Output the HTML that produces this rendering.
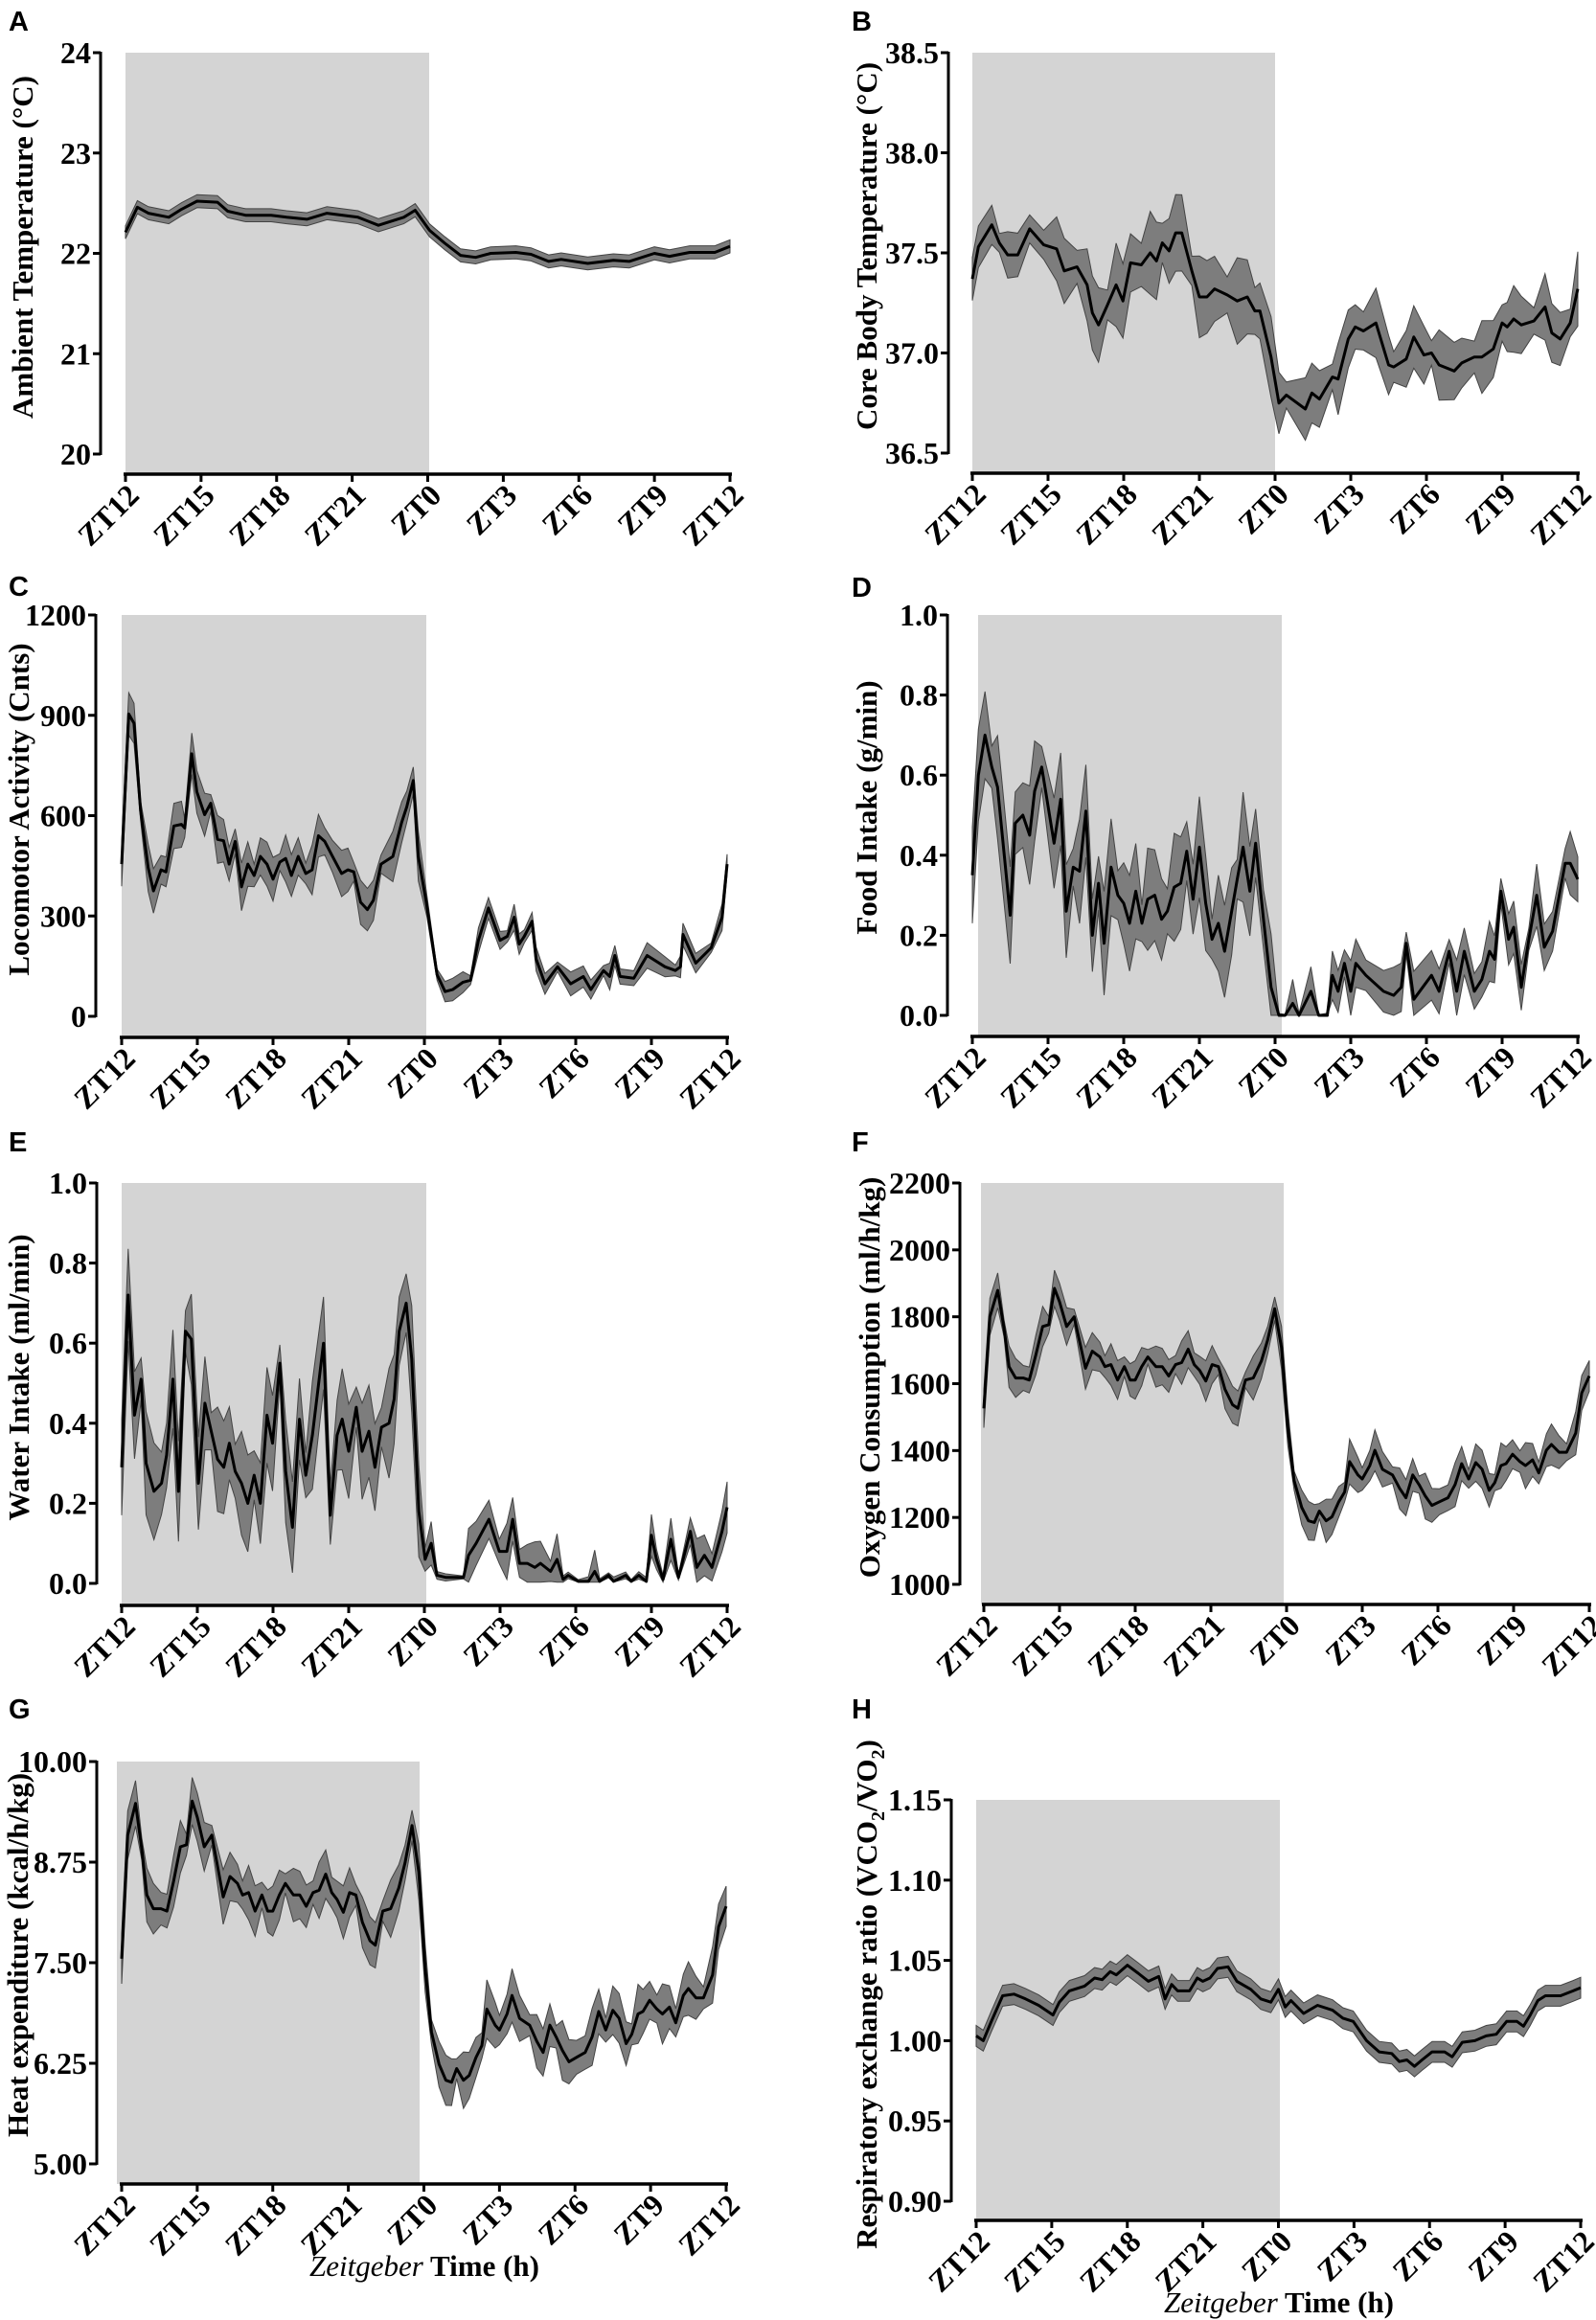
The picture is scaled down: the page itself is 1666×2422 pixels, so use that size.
<!DOCTYPE html>
<html><head><meta charset="utf-8">
<style>
html,body{margin:0;padding:0;background:#fff;}
svg{display:block;}
.tk{font-family:"Liberation Serif",serif;font-weight:bold;font-size:32px;fill:#000;}
.yl{font-family:"Liberation Serif",serif;font-weight:bold;font-size:31px;fill:#000;}
.lt{font-family:"Liberation Sans",sans-serif;font-weight:bold;font-size:29px;fill:#000;}
</style></head>
<body>
<svg id="s" width="1666" height="2422" viewBox="0 0 1666 2422" xmlns="http://www.w3.org/2000/svg">
<text class="lt" x="9" y="32">A</text>
<text class="lt" x="889" y="32">B</text>
<text class="lt" x="9" y="622">C</text>
<text class="lt" x="889" y="623">D</text>
<text class="lt" x="9" y="1202">E</text>
<text class="lt" x="889" y="1202">F</text>
<text class="lt" x="9" y="1794">G</text>
<text class="lt" x="889" y="1794">H</text>
<text class="yl" transform="translate(34,258) rotate(-90)" text-anchor="middle">Ambient Temperature (°C)</text>
<text class="yl" transform="translate(915,257) rotate(-90)" text-anchor="middle">Core Body Temperature (°C)</text>
<text class="yl" transform="translate(30,845) rotate(-90)" text-anchor="middle">Locomotor Activity (Cnts)</text>
<text class="yl" transform="translate(915,843) rotate(-90)" text-anchor="middle">Food Intake (g/min)</text>
<text class="yl" transform="translate(30,1438) rotate(-90)" text-anchor="middle">Water Intake (ml/min)</text>
<text class="yl" transform="translate(918,1438) rotate(-90)" text-anchor="middle">Oxygen Consumption (ml/h/kg)</text>
<text class="yl" transform="translate(29,2041) rotate(-90)" text-anchor="middle">Heat expenditure (kcal/h/kg)</text>
<text class="yl" transform="translate(915,2082) rotate(-90)" text-anchor="middle">Respiratory exchange ratio (VCO<tspan font-size="20" dy="8">2</tspan><tspan dy="-8">/VO</tspan><tspan font-size="20" dy="8">2</tspan><tspan dy="-8">)</tspan></text>
<text class="yl" x="443" y="2376" text-anchor="middle"><tspan font-style="italic" font-weight="normal">Zeitgeber</tspan> Time (h)</text>
<text class="yl" x="1335" y="2414" text-anchor="middle"><tspan font-style="italic" font-weight="normal">Zeitgeber</tspan> Time (h)</text>
</svg>
<script>
var NS="http://www.w3.org/2000/svg",S=document.getElementById("s");
function el(n,a,t){var e=document.createElementNS(NS,n);for(var k in a)e.setAttribute(k,a[k]);if(t!==undefined)e.textContent=t;S.appendChild(e);return e;}
function P(a){var r=[];for(var i=0;i<a.length;i+=2)r.push([a[i],a[i+1]]);return r;}
var ZT=["ZT12","ZT15","ZT18","ZT21","ZT0","ZT3","ZT6","ZT9","ZT12"];
function panel(c){
 var X=function(t){return c.x0+(c.x1-c.x0)*t/24;};
 var Y=function(v){return c.yB-(v-c.vmin)/(c.vmax-c.vmin)*(c.yB-c.yT);};
 el("rect",{x:c.s0,y:c.yT,width:c.s1-c.s0,height:c.xa-c.yT,fill:"#d4d4d4"});
 var up=[],lo=[],ln=[];
 c.pts.forEach(function(p,i){var se=c.se(p[0],p[1],i);up.push(X(p[0]).toFixed(1)+","+Y(p[1]+se).toFixed(1));lo.push(X(p[0]).toFixed(1)+","+Y(Math.max(c.floor!==undefined?c.floor:-1e9,p[1]-se)).toFixed(1));ln.push(X(p[0]).toFixed(1)+","+Y(p[1]).toFixed(1));});
 el("polygon",{points:up.concat(lo.reverse()).join(" "),fill:"#7d7d7d",stroke:"#444",'stroke-width':1});
 el("polyline",{points:ln.join(" "),fill:"none",stroke:"#000",'stroke-width':3,'stroke-linejoin':"round"});
 el("line",{x1:c.ax,y1:c.yT-1,x2:c.ax,y2:c.yB+1,stroke:"#000",'stroke-width':3});
 for(var v=c.vmin;v<=c.vmax+1e-9;v+=c.step){var y=Y(v);
  el("line",{x1:c.ax-8,y1:y,x2:c.ax,y2:y,stroke:"#000",'stroke-width':3});
  el("text",{"class":"tk",x:c.ax-10,y:y+11,'text-anchor':"end"},v.toFixed(c.fmt));}
 el("line",{x1:c.x0-2,y1:c.xa,x2:c.x1+2,y2:c.xa,stroke:"#000",'stroke-width':3.5});
 for(var i=0;i<9;i++){var tx=X(i*3);
  el("line",{x1:tx,y1:c.xa,x2:tx,y2:c.xa+8,stroke:"#000",'stroke-width':3});
  el("text",{"class":"tk",x:tx+16,y:c.xa+24,'text-anchor':"end",transform:"rotate(-45 "+(tx+16)+" "+(c.xa+24)+")"},ZT[i]);}
}
function jit(i){return 1+0.35*Math.sin(i*1.7)+0.2*Math.cos(i*2.9);}
panel({ax:105,x0:131,x1:762,s0:131,s1:448,yT:55,yB:474,xa:495,vmin:20,vmax:24,step:1,fmt:0,
pts:P([0,22.21,.47,22.46,.91,22.4,1.72,22.36,2.23,22.44,2.84,22.52,3.65,22.51,4.06,22.42,4.77,22.38,5.78,22.38,6.4,22.36,7.2,22.34,8,22.4,9.23,22.36,10.04,22.28,11.05,22.36,11.5,22.43,12.07,22.23,12.68,22.1,13.3,21.98,13.9,21.96,14.5,22,15.5,22.01,16.1,21.99,16.8,21.92,17.3,21.94,18.35,21.9,19.37,21.93,20,21.92,21,22,21.6,21.97,22.4,22.01,23.4,22.01,24,22.07]),
se:function(t,v,i){return 0.065;}});
panel({ax:990,x0:1015,x1:1647,s0:1015,s1:1331,yT:55,yB:473,xa:494,vmin:36.5,vmax:38.5,step:0.5,fmt:1,
pts:P([0,37.37,.24,37.53,.77,37.64,1.07,37.55,1.4,37.49,1.8,37.49,2.27,37.62,2.83,37.54,3.34,37.52,3.64,37.41,4.15,37.43,4.55,37.34,4.76,37.2,5,37.14,5.36,37.24,5.7,37.34,5.97,37.26,6.27,37.45,6.7,37.44,7.05,37.5,7.3,37.46,7.53,37.55,7.8,37.51,8.06,37.6,8.3,37.6,8.7,37.41,9,37.28,9.3,37.28,9.6,37.32,10.1,37.29,10.5,37.26,10.9,37.28,11.2,37.21,11.4,37.21,11.84,36.98,12.15,36.75,12.45,36.79,13.2,36.72,13.46,36.8,13.76,36.77,14.27,36.88,14.5,36.87,14.9,37.07,15.18,37.13,15.5,37.11,16,37.15,16.5,36.94,16.7,36.93,17.2,36.97,17.5,37.08,17.9,36.99,18.2,37,18.5,36.94,19.1,36.91,19.4,36.95,19.9,36.98,20.2,36.98,20.65,37.02,21,37.15,21.2,37.13,21.46,37.17,21.76,37.14,22.26,37.16,22.7,37.23,22.97,37.1,23.3,37.07,23.7,37.15,24,37.32]),
se:function(t,v,i){return (t<3?0.09:t>4&&t<12?0.16:0.13)*jit(i);}});
panel({ax:100,x0:127,x1:759,s0:127,s1:445,yT:642,yB:1061,xa:1083,vmin:0,vmax:1200,step:300,fmt:0,floor:40,
pts:P([0,455,.28,904,.49,876,.75,614,1.05,444,1.26,375,1.56,438,1.76,432,2.07,569,2.37,574,2.5,563,2.78,785,2.98,671,3.29,603,3.53,637,3.8,529,4.04,525,4.26,455,4.5,523,4.75,387,5,455,5.25,421,5.5,478,5.76,455,6,410,6.27,461,6.5,472,6.73,421,7,478,7.3,427,7.55,438,7.8,540,8.05,523,8.36,478,8.72,427,8.97,438,9.2,432,9.47,341,9.74,319,9.98,347,10.28,455,10.75,478,11.1,580,11.3,626,11.56,705,11.76,478,12.1,330,12.5,125,12.82,74,13.12,80,13.53,102,13.83,108,14.14,227,14.54,324,15,227,15.29,239,15.56,296,15.76,216,15.96,239,16.27,284,16.43,171,16.78,97,17.28,148,17.8,97,18.3,119,18.6,80,19.1,137,19.35,119,19.55,182,19.76,119,20.3,114,20.83,182,21.54,148,21.95,137,22.15,148,22.25,245,22.76,159,23.37,205,23.8,296,24,455]),
se:function(t,v,i){return (t<12?55:28)*jit(i);}});
panel({ax:989,x0:1015,x1:1647,s0:1021,s1:1338,yT:642,yB:1060,xa:1082,vmin:0,vmax:1,step:0.2,fmt:1,floor:0,
pts:P([0,.35,.24,.6,.5,.7,.77,.62,1,.57,1.5,.25,1.7,.48,2,.5,2.27,.45,2.47,.56,2.75,.62,3.24,.43,3.5,.54,3.72,.26,4,.37,4.25,.36,4.5,.51,4.76,.2,5,.33,5.22,.18,5.5,.37,5.77,.3,6,.28,6.23,.23,6.48,.31,6.72,.23,6.95,.29,7.23,.3,7.5,.24,7.73,.26,8,.32,8.26,.33,8.5,.41,8.75,.29,9,.42,9.25,.28,9.5,.19,9.75,.23,10,.16,10.28,.26,10.5,.34,10.73,.42,11,.31,11.23,.43,11.54,.24,11.84,.07,12.15,0,12.4,0,12.7,.03,12.95,0,13.42,.06,13.73,0,14.07,0,14.27,.1,14.5,.06,14.75,.13,15,.06,15.2,.13,15.6,.1,16.3,.06,16.7,.05,17,.07,17.2,.18,17.5,.04,18.2,.1,18.5,.06,18.9,.16,19.2,.06,19.5,.16,19.9,.06,20.2,.09,20.5,.16,20.7,.14,20.95,.31,21.26,.19,21.46,.22,21.76,.07,22.06,.19,22.37,.3,22.67,.17,23,.21,23.5,.38,23.7,.38,24,.34]),
se:function(t,v,i){return (t<12?0.1:(v<0.02?0.004:0.055))*jit(i);}});
panel({ax:101,x0:127,x1:759,s0:127,s1:445,yT:1235,yB:1653,xa:1676,vmin:0,vmax:1,step:0.2,fmt:1,floor:0.003,
pts:P([0,.29,.26,.72,.51,.42,.77,.51,.97,.3,1.28,.23,1.58,.25,1.78,.32,2.03,.51,2.25,.23,2.53,.63,2.76,.61,3.04,.25,3.3,.45,3.55,.38,3.8,.31,4.05,.29,4.27,.35,4.5,.28,4.75,.25,5,.2,5.25,.27,5.5,.2,5.76,.42,5.98,.35,6.27,.55,6.5,.28,6.77,.14,7.05,.41,7.3,.27,7.56,.37,8,.6,8.27,.17,8.54,.37,8.74,.41,9,.33,9.3,.44,9.53,.33,9.8,.38,10.04,.29,10.3,.39,10.6,.4,10.8,.46,11,.63,11.28,.7,11.5,.56,11.78,.18,12.03,.06,12.27,.1,12.5,.02,12.84,.015,13.55,.015,13.75,.07,14.05,.1,14.56,.16,14.97,.08,15.27,.08,15.5,.16,15.77,.05,16.08,.05,16.38,.04,16.6,.05,17,.03,17.26,.06,17.5,.01,17.7,.02,18.1,.005,18.5,.005,18.75,.03,18.95,.005,19.3,.02,19.5,.005,19.98,.02,20.2,.005,20.5,.02,20.8,.005,21,.12,21.2,.06,21.46,.01,21.77,.11,22.07,.015,22.54,.13,22.8,.04,23.1,.07,23.4,.04,23.8,.13,24,.19]),
se:function(t,v,i){return (t<12?0.1:(v<0.03?0.008:0.05))*jit(i);}});
var Fp=P([0,1526,.24,1800,.55,1879,.8,1765,1,1651,1.26,1617,1.56,1617,1.8,1611,2.06,1685,2.33,1771,2.57,1776,2.8,1885,3,1845,3.28,1771,3.58,1800,4.03,1646,4.3,1697,4.6,1680,4.8,1651,5.04,1657,5.3,1611,5.57,1651,5.8,1611,6,1611,6.26,1651,6.5,1680,6.82,1651,7.07,1651,7.33,1623,7.6,1657,7.84,1663,8.1,1703,8.34,1657,8.55,1640,8.8,1608,9.05,1657,9.3,1651,9.56,1583,9.86,1537,10.07,1526,10.37,1611,10.68,1617,11,1668,11.25,1731,11.53,1824,11.8,1708,12.05,1469,12.3,1310,12.6,1230,12.87,1190,13.1,1185,13.3,1219,13.57,1190,13.8,1202,14.07,1247,14.3,1276,14.5,1367,14.83,1327,15,1315,15.3,1355,15.5,1401,15.8,1344,16.2,1327,16.48,1287,16.73,1259,17,1327,17.25,1298,17.5,1264,17.76,1236,18.06,1247,18.4,1259,18.68,1298,18.94,1361,19.22,1315,19.5,1364,19.75,1344,20.03,1281,20.25,1304,20.5,1355,20.7,1361,20.96,1389,21.25,1367,21.47,1355,21.75,1372,22,1333,22.3,1401,22.5,1418,22.8,1395,23.1,1395,23.46,1452,23.7,1572,24,1623]);
panel({ax:1002,x0:1027,x1:1659,s0:1024,s1:1340,yT:1235,yB:1654,xa:1675,vmin:1000,vmax:2200,step:200,fmt:0,
pts:Fp,se:function(t,v,i){return 48*jit(i);}});
var Gp=Fp.map(function(p){return [p[0],p[1]*0.004993+0.098];});Gp[0][1]=7.55;
panel({ax:101,x0:127,x1:758,s0:122,s1:438,yT:1839,yB:2259,xa:2280,vmin:5,vmax:10,step:1.25,fmt:2,
pts:Gp,se:function(t,v,i){return 0.26*jit(i);}});
panel({ax:993,x0:1019,x1:1650,s0:1019,s1:1336,yT:1879,yB:2298,xa:2318,vmin:0.9,vmax:1.15,step:0.05,fmt:2,
pts:P([0,1.003,.28,1,.6,1.012,1.05,1.028,1.5,1.029,1.96,1.026,2.48,1.022,3.05,1.016,3.3,1.024,3.7,1.031,4.3,1.034,4.7,1.039,5,1.038,5.32,1.043,5.56,1.041,6,1.047,6.43,1.042,6.84,1.037,7.25,1.04,7.5,1.026,7.76,1.035,8,1.031,8.47,1.031,8.78,1.039,9,1.037,9.28,1.039,9.58,1.045,10,1.046,10.35,1.037,10.9,1.032,11.3,1.026,11.7,1.024,12,1.032,12.27,1.021,12.5,1.025,13,1.017,13.55,1.022,14.15,1.019,14.56,1.014,14.97,1.012,15.5,1,16,.993,16.5,.992,16.8,.987,17.1,.988,17.4,.984,17.7,.988,18.1,.993,18.6,.993,18.9,.99,19.3,.999,19.8,1,20.25,1.003,20.65,1.004,21.06,1.012,21.47,1.012,21.73,1.009,22,1.016,22.3,1.025,22.6,1.028,23.2,1.028,23.7,1.031,24,1.033]),
se:function(t,v,i){return 0.0065;}});
</script>
</body></html>
